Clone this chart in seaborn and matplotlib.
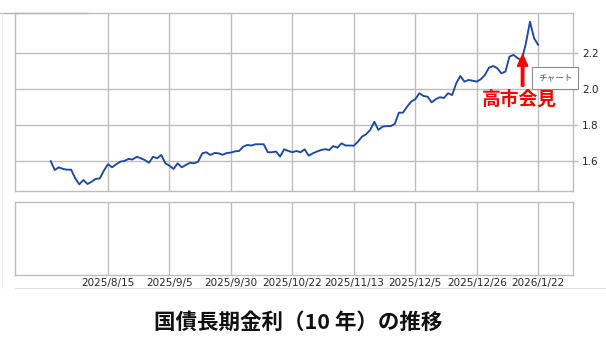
import numpy as np
import pandas as pd
import matplotlib
matplotlib.use("Agg")
import matplotlib.pyplot as plt
from matplotlib.lines import Line2D
from matplotlib.patches import Rectangle
import seaborn as sns

# ---------------- data ----------------
start_date = "2025-07-25"
end_date = "2026-01-22"
market_holidays = ["2025-08-11", "2025-09-15", "2025-09-23", "2025-10-13",
                   "2025-11-03", "2025-11-24", "2025-12-31", "2026-01-01",
                   "2026-01-02", "2026-01-12"]

yield_10y = [
    1.603, 1.553, 1.568, 1.559, 1.555, 1.555, 1.507, 1.474, 1.498, 1.476,
    1.489, 1.504, 1.507, 1.550, 1.585, 1.568, 1.585, 1.599, 1.603, 1.614,
    1.611, 1.626, 1.618, 1.608, 1.593, 1.626, 1.618, 1.636, 1.590, 1.577,
    1.559, 1.590, 1.568, 1.581, 1.593, 1.590, 1.599, 1.645, 1.651, 1.636,
    1.647, 1.645, 1.637, 1.647, 1.649, 1.656, 1.658, 1.682, 1.691, 1.688,
    1.695, 1.695, 1.695, 1.651, 1.651, 1.655, 1.627, 1.667, 1.658, 1.651,
    1.658, 1.651, 1.667, 1.632, 1.645, 1.655, 1.663, 1.668, 1.663, 1.685,
    1.676, 1.700, 1.688, 1.688, 1.687, 1.709, 1.737, 1.750, 1.774, 1.819,
    1.774, 1.792, 1.795, 1.795, 1.807, 1.869, 1.869, 1.902, 1.930, 1.943,
    1.976, 1.961, 1.957, 1.926, 1.943, 1.954, 1.950, 1.976, 1.966, 2.031,
    2.071, 2.040, 2.049, 2.045, 2.040, 2.053, 2.077, 2.117, 2.126, 2.114,
    2.086, 2.095, 2.178, 2.187, 2.169, 2.159, 2.251, 2.370, 2.279, 2.242,
]

x_tick_labels = ["2025/8/15", "2025/9/5", "2025/9/30", "2025/10/22",
                 "2025/11/13", "2025/12/5", "2025/12/26", "2026/1/22"]
y_ticks = [1.6, 1.8, 2.0, 2.2]
y_tick_labels = ["1.6", "1.8", "2.0", "2.2"]

title_text = "国債長期金利（10 年）の推移"
event_text = "高市会見"
tooltip_text = "チャート"

# ---------------- prep ----------------
dates = pd.bdate_range(start_date, end_date, freq="C", holidays=market_holidays)
df = pd.DataFrame({"date": dates[:len(yield_10y)],
                   "pos": np.arange(len(yield_10y)),
                   "yield": yield_10y})
label_index = {f"{d.year}/{d.month}/{d.day}": i for i, d in enumerate(df["date"])}
x_tick_pos = [label_index[t] for t in x_tick_labels]

sns.set_theme(style="white")
plt.rcParams["font.family"] = ["DejaVu Sans"]
CJK = ["Noto Sans CJK JP", "DejaVu Sans"]

W, H = 606, 338
fig = plt.figure(figsize=(W / 100, H / 100), dpi=100)
fig.patch.set_facecolor("white")

def box(l, t, r, b):
    return [l / W, 1 - b / H, (r - l) / W, (b - t) / H]

grid_c = "#bdbdbd"
line_c = "#1d49a3"
xlim = (-8.7, 127.5)

ax = fig.add_axes(box(15, 13, 573, 191))
ax2 = fig.add_axes(box(15, 202, 573, 275))

sns.lineplot(data=df, x="pos", y="yield", ax=ax, color=line_c, lw=1.35, zorder=3)

for a in (ax, ax2):
    a.set_xlim(*xlim)
    a.set_facecolor("white")
    for s in a.spines.values():
        s.set_color(grid_c)
        s.set_linewidth(1.0)
    a.set_xticks(x_tick_pos)
    a.set_xlabel("")
    a.set_ylabel("")
    a.grid(False)
    for xp in x_tick_pos:
        a.axvline(xp, color=grid_c, lw=1.0, zorder=1)

ax.set_ylim(1.4375, 2.418)
ax.set_yticks(y_ticks)
ax.set_yticklabels(y_tick_labels)
for yv in y_ticks:
    ax.axhline(yv, color=grid_c, lw=1.0, zorder=1)
ax.yaxis.tick_right()
ax.tick_params(axis="y", which="both", right=True, left=False, length=3.6,
               width=1.0, color=grid_c, pad=2.8, labelsize=7.5, labelcolor="#262626")
ax.tick_params(axis="x", bottom=False, labelbottom=False)

ax2.set_ylim(0, 1)
ax2.set_yticks([])
ax2.set_xticklabels(x_tick_labels)
ax2.tick_params(axis="x", bottom=True, length=0, pad=2.5, labelsize=7.5,
                labelcolor="#262626")

# event arrow and label
ax.annotate("", xy=(115.2, 2.19), xytext=(115.2, 2.015),
            arrowprops=dict(width=1.8, headwidth=7.5, headlength=8.5,
                            color="#ff0000", shrink=0), zorder=5)
ax.text(114.5, 1.944, event_text, ha="center", va="center", color="#ff0000",
        fontsize=13.5, fontweight="bold", family=CJK, zorder=5, clip_on=False)

# tooltip box
fig.patches.append(Rectangle((532 / W, 1 - 89 / H), 46 / W, 22 / H,
                             transform=fig.transFigure, facecolor="white",
                             edgecolor="#8c8c8c", lw=0.8, zorder=10))
fig.text(555 / W, 1 - 78 / H, tooltip_text, ha="center", va="center",
         fontsize=6.2, color="#555555", family=CJK, zorder=11)

# decorative frame lines
fig.add_artist(Line2D([0, 88 / W], [1 - 12.5 / H] * 2, transform=fig.transFigure,
                      color="#b5b5b5", lw=1.0))
fig.add_artist(Line2D([15 / W, 1], [1 - 288 / H] * 2, transform=fig.transFigure,
                      color="#e2e2e2", lw=0.8))
fig.add_artist(Line2D([2 / W, 2 / W], [1 - 288 / H, 1 - 13 / H], transform=fig.transFigure,
                      color="#ededed", lw=0.8))

# title
fig.text(298 / W, 1 - 322 / H, title_text, ha="center", va="center",
         fontsize=15.5, fontweight="bold", color="#111111", family=CJK)

fig.savefig("out.png", dpi=100, facecolor="white")
